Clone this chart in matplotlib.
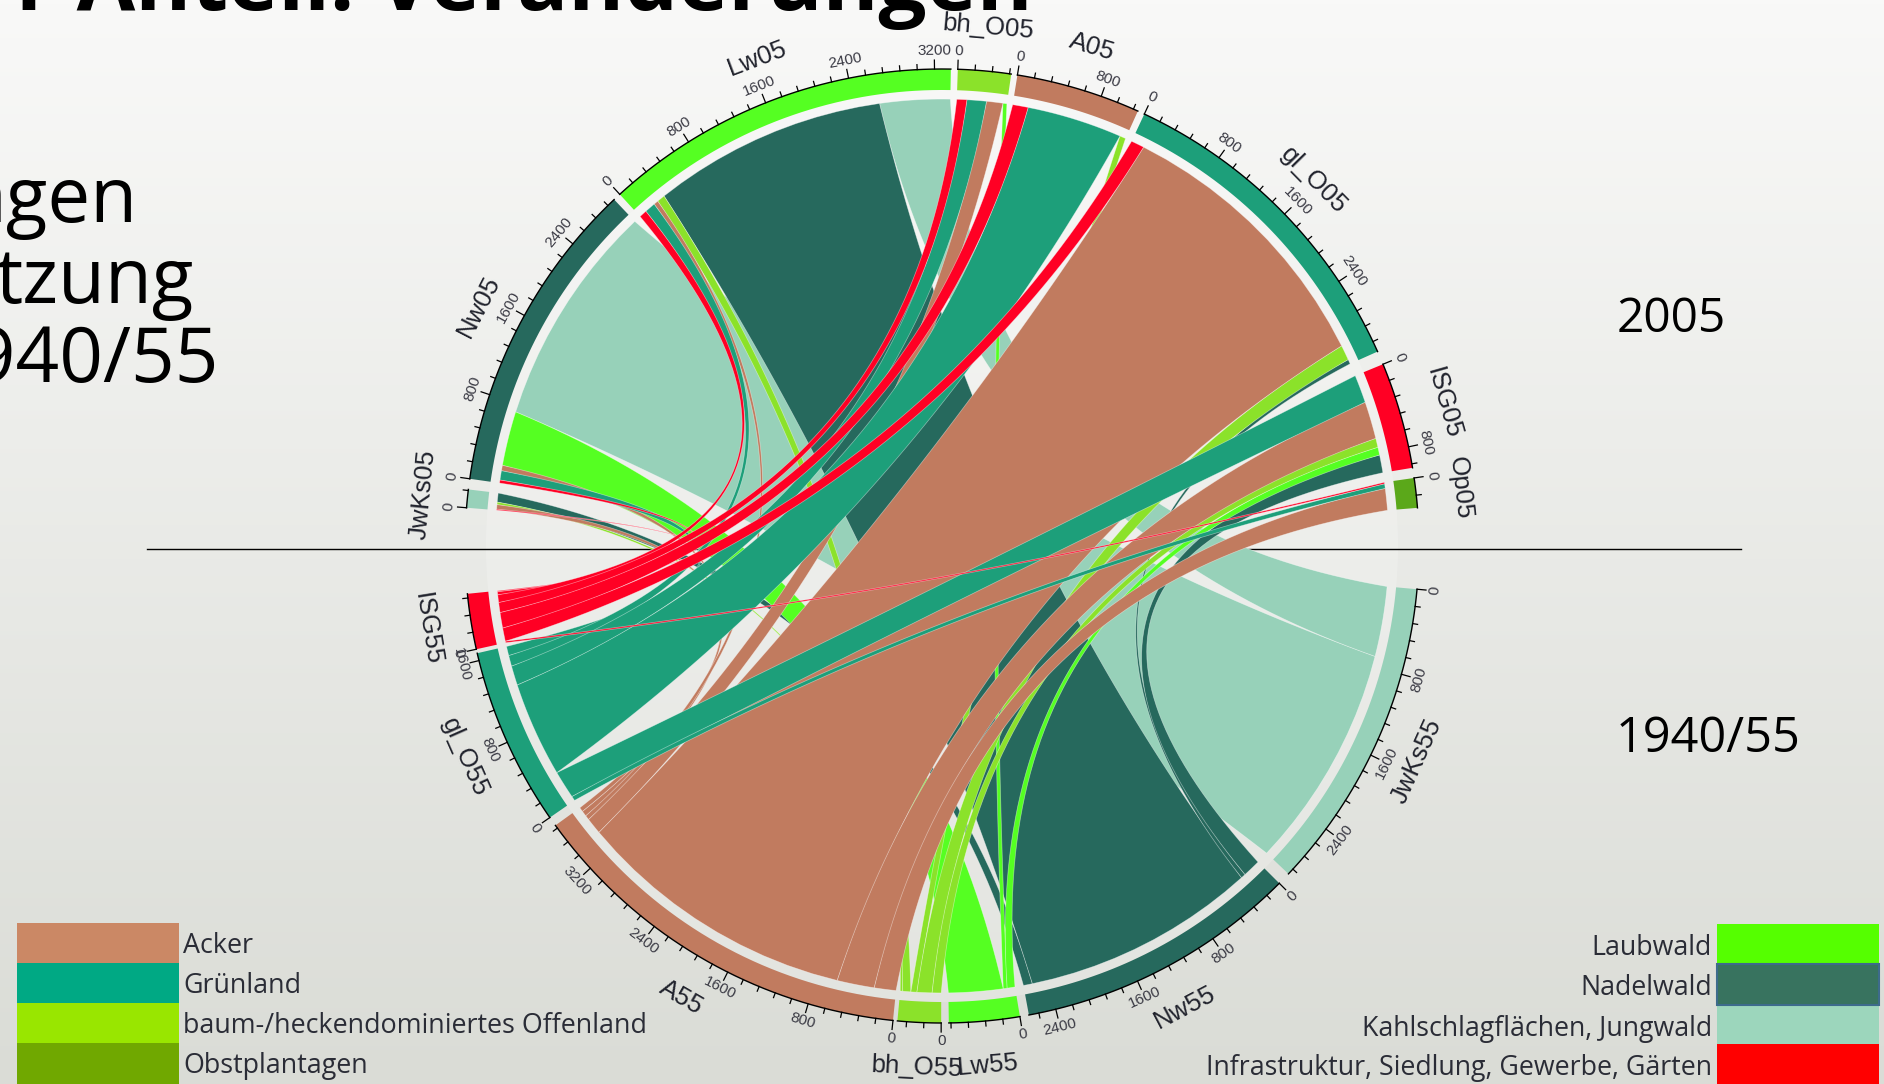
import numpy as np
import matplotlib
matplotlib.use("Agg")
import matplotlib.pyplot as plt
from matplotlib.patches import Polygon, Circle, Rectangle

# ====== Datos ======
sect_05 = ["JwKs05", "Nw05", "Lw05", "bh_O05", "A05", "gl_O05", "ISG05", "Op05"]
sect_55 = ["JwKs55", "Nw55", "Lw55", "bh_O55", "A55", "gl_O55", "ISG55"]

# rows: 1940/55 sectors, columns: 2005 sectors
flows = np.array([
    [0, 2240, 700, 0, 0, 0, 0, 0],
    [90, 0, 2340, 0, 0, 46, 178, 0],
    [0, 543, 0, 39, 0, 0, 78, 0],
    [25, 0, 80, 0, 60, 150, 90, 0],
    [45, 54, 46, 163, 0, 2814, 372, 217],
    [0, 93, 108, 194, 950, 0, 279, 46],
    [10, 30, 77, 100, 155, 132, 0, 15],
])

legend_left = ["Acker", "Grünland", "baum-/heckendominiertes Offenland", "Obstplantagen"]
legend_right = ["Laubwald", "Nadelwald", "Kahlschlagflächen, Jungwald",
                "Infrastruktur, Siedlung, Gewerbe, Gärten"]

# ====== Estilo ======
col_05 = ["#97D1B9", "#26695D", "#55FF22", "#8BE22A", "#C17B5F", "#1D9F7A", "#FF0024", "#5BA81A"]
col_55 = ["#97D1B9", "#26695D", "#55FF22", "#8BE22A", "#C17B5F", "#1D9F7A", "#FF0024"]
legend_left_col = ["#CB8865", "#00A984", "#99E600", "#70A800"]
legend_right_col = ["#55FF00", "#38735F", "#9CD6BC", "#FF0000"]

start_05 = [175.4, 171.9, 132.5, 88.1, 80.9, 64.9, 22.4, 8.2]
start_55 = [-5.2, -45.0, -80.6, -90.1, -95.9, -145.3, -167.5]
draw_order = [0, 1, 2, 3, 4, 5, 6]

CX, CY, R = 942, 546, 477
R_TRACK = R * 0.956
R_LINK = R * 0.937
DEG = 0.013  # degrees per unit
FONT = ["Liberation Sans", "DejaVu Sans"]


def xy(ang, r):
    a = np.radians(ang)
    return CX + r * np.cos(a), CY - r * np.sin(a)


def arc(a0, a1, r, n=40):
    t = np.linspace(a0, a1, n)
    x, y = xy(t, r)
    return np.column_stack([x, y])


def control(a0, a1):
    d = (a1 - a0 + 180) % 360 - 180
    return np.array(xy(a0 + d / 2, R_LINK * 0.1)), abs(d)


def curve(a0, a1, p1, n=60):
    p0 = np.array(xy(a0, R_LINK))
    p2 = np.array(xy(a1, R_LINK))
    t = np.linspace(0, 1, n)[:, None]
    return (1 - t) ** 2 * p0 + 2 * t * (1 - t) * p1 + t ** 2 * p2


def ribbon(a0, a1, b0, b1, narrow):
    # two edges, pulled towards the centre; narrow ribbons between opposite
    # sectors keep their width in the middle
    c1, span1 = control(a1, b0)
    c2, span2 = control(b1, a0)
    m1 = curve(a1, b0, c1, 3)[1]
    m2 = curve(b1, a0, c2, 3)[1]
    span = (span1 + span2) / 2
    want = np.radians(abs(a1 - a0)) * R_LINK * 0.8 * np.sin(np.radians(span / 2)) ** 2
    gap = np.hypot(*(m2 - m1))
    if narrow and gap < want:
        chord = np.array(xy(b0, R_LINK)) - np.array(xy(a1, R_LINK))
        n = np.array([-chord[1], chord[0]]) / np.hypot(*chord)
        side = np.array(xy(a0, R_LINK)) - np.array(xy(a1, R_LINK))
        if np.dot(n, side) < 0:
            n = -n
        c1 = c1 - n * (want - gap)
        c2 = c2 + n * (want - gap)
    return np.vstack([arc(a0, a1, R_LINK, 12), curve(a1, b0, c1), arc(b0, b1, R_LINK, 12), curve(b1, a0, c2)])


fig = plt.figure(figsize=(18.84, 10.84), dpi=100)
ax = fig.add_axes([0, 0, 1, 1])
ax.set_xlim(0, 1884)
ax.set_ylim(1084, 0)
ax.axis("off")

# fondo
grad = np.linspace(0, 1, 256)[:, None, None]
top = np.array([249, 249, 248]) / 255
bottom = np.array([218, 220, 214]) / 255
ax.imshow(top + (bottom - top) * grad, extent=(0, 1884, 1084, 0), aspect="auto", zorder=0)
ax.add_patch(Circle((CX, CY), R_TRACK, fc="white", ec="none", alpha=0.2, zorder=1))
ax.plot([147, 1741], [549, 549], color="black", lw=1, zorder=2)

# ====== Ribbons ======
total_55 = flows.sum(axis=1)
total_05 = flows.sum(axis=0)

# position of every ribbon inside its sector, going clockwise
pos_55 = {}
for i in range(len(sect_55)):
    used = 0
    for j in range(len(sect_05) - 1, -1, -1):
        pos_55[i, j] = used
        used += flows[i, j]

pos_05 = {}
order_05 = [6, 5, 4, 3, 2, 1, 0]
for j in range(len(sect_05)):
    used = 0
    for i in order_05:
        pos_05[i, j] = used
        used += flows[i, j]

for i in draw_order:
    for j in range(len(sect_05)):
        v = flows[i, j]
        if v == 0:
            continue
        a0 = start_55[i] - pos_55[i, j] * DEG
        a1 = a0 - v * DEG
        b0 = start_05[j] - pos_05[i, j] * DEG
        b1 = b0 - v * DEG
        pts = ribbon(a0, a1, b0, b1, v < 400)
        ax.add_patch(Polygon(pts, closed=True, fc=col_55[i], ec=(1, 1, 1, 0.45), lw=0.5, zorder=3))


# ====== Sectores, ticks ======
def draw_sector(name, start, total, col, top_half):
    end = start - total * DEG
    pts = np.vstack([arc(start, end, R), arc(end, start, R_TRACK)])
    ax.add_patch(Polygon(pts, closed=True, fc=col, ec="none", zorder=4))
    line = arc(start, end, R)
    ax.plot(line[:, 0], line[:, 1], color="black", lw=1, zorder=5)
    for tick in np.arange(0, total + 1, 160):
        ang = start - tick * DEG
        major = tick % 800 == 0
        x, y = xy(ang, np.array([R, R + (9 if major else 5)]))
        ax.plot(x, y, color="black", lw=0.9, zorder=5)
        if major:
            lx, ly = xy(ang, R * 1.038)
            rot = ang - 90 if top_half else ang + 90
            ax.text(lx, ly, str(int(tick)), fontsize=11, color="#3a3a44", rotation=rot, family=FONT,
                    ha="center", va="center", rotation_mode="anchor", zorder=6)
    mid = (start + end) / 2
    lx, ly = xy(mid, R * 1.093)
    rot = mid - 90 if top_half else mid + 90
    ax.text(lx, ly, name, fontsize=18.5, color="#20222c", rotation=rot, family=FONT,
            ha="center", va="center", rotation_mode="anchor", zorder=6)


for k, name in enumerate(sect_05):
    draw_sector(name, start_05[k], total_05[k], col_05[k], True)
for k, name in enumerate(sect_55):
    draw_sector(name, start_55[k], total_55[k], col_55[k], False)

# ====== Textos ======
ax.text(1033, 10, "r Anteil: Veränderungen", fontsize=61.2, fontweight="bold", family="Open Sans",
        ha="right", va="baseline", color="black", zorder=7)
for txt, x, y in [("ngen", 138, 222), ("tzung", 194, 303), ("1940/55", 219, 382)]:
    ax.text(x, y, txt, fontsize=55, family="Open Sans", ha="right", va="baseline", color="black", zorder=7)
ax.text(1671, 319, "2005", fontsize=34.5, family="Open Sans", ha="center", va="center", zorder=7)
ax.text(1708, 739, "1940/55", fontsize=35, family="Open Sans", ha="center", va="center", zorder=7)

# ====== Leyenda ======
left_y = [923, 963, 1003, 1043, 1084]
right_y = [924, 964, 1005, 1044, 1084]
for k, label in enumerate(legend_left):
    ax.add_patch(Rectangle((17, left_y[k]), 162, left_y[k + 1] - left_y[k], fc=legend_left_col[k],
                           ec="none", zorder=7))
    ax.text(183, left_y[k] + 23, label, fontsize=19.4, family="Open Sans", color="#2a2c36",
            ha="left", va="center", zorder=7)
for k, label in enumerate(legend_right):
    ec = "#3D6B8C" if k == 1 else "none"
    ax.add_patch(Rectangle((1717, right_y[k]), 162, right_y[k + 1] - right_y[k], fc=legend_right_col[k],
                           ec=ec, lw=1.5, zorder=8 if k == 1 else 7))
    ax.text(1712, right_y[k] + 24, label, fontsize=19.3, family="Open Sans", color="#2a2c36",
            ha="right", va="center", zorder=7)

fig.savefig("out.png", dpi=100)
